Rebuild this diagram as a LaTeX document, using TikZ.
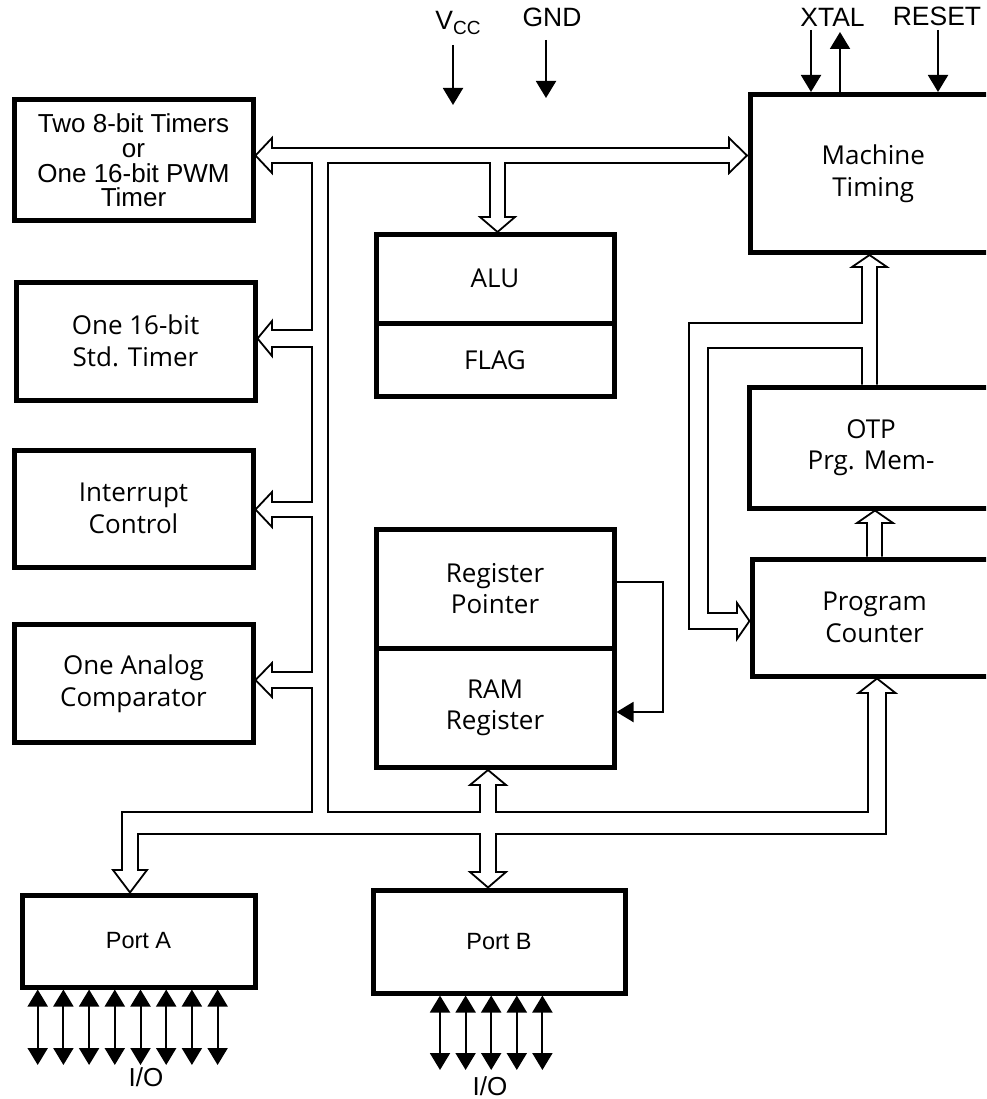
\documentclass[tikz,border=0pt]{standalone}
\usepackage{fontspec}
\setmainfont{Liberation Sans}
\newfontfamily\boxfont{Open Sans}
\usetikzlibrary{arrows.meta}

\begin{document}
\begin{tikzpicture}[x=1pt, y=-1pt, >={Triangle[length=17pt,width=20pt]},
  blk/.style={draw, line width=5pt, inner sep=0pt, align=center, font=\boxfont\fontsize{26}{31.5}\selectfont},
  sanstext/.style={font=\fontsize{#1}{24.7}\selectfont},
  bus/.style={line width=1.8pt},
  sig/.style={line width=2pt, ->},
  io/.style={line width=2pt, <->},
  pin/.style={inner sep=0pt, anchor=base, font=\fontsize{26.5}{30}\selectfont}]
\useasboundingbox (0,0) rectangle (986,1099);
\clip (0,0) rectangle (986,1099);

\node[blk, sanstext=26, minimum width=239pt, minimum height=121pt] (tmrA) at (133.5,160.5) {Two 8-bit Timers\\or\\One 16-bit PWM\\Timer};
\node[blk, minimum width=239pt, minimum height=118pt] (tmrB) at (135.5,341) {One 16-bit\\Std. Timer};
\node[blk, minimum width=239pt, minimum height=117pt] (intc) at (133.5,508.5) {Interrupt\\Control};
\node[blk, minimum width=239pt, minimum height=118pt] (cmp) at (133.5,683.5) {One Analog\\Comparator};
\node[blk, sanstext=23.5, minimum width=233pt, minimum height=92pt] (porta) at (138.5,941) {Port A};
\node[blk, sanstext=23.5, minimum width=252pt, minimum height=103pt] (portb) at (499,941.5) {Port B};
\node[blk, minimum width=238pt, minimum height=88.5pt] (alu) at (495,278.75) {ALU};
\node[blk, minimum width=238pt, minimum height=73.5pt] (flag) at (495,359.75) {FLAG};
\node[blk, minimum width=238pt, minimum height=118.5pt] (rp) at (495,588.75) {Register\\Pointer};
\node[blk, minimum width=238pt, minimum height=119.5pt] (ram) at (495,707.75) {RAM\\Register};
\node[blk, minimum width=245.5pt, minimum height=158pt] (mt) at (873.25,173.5) {Machine\\Timing};
\node[blk, minimum width=243pt, minimum height=121pt] (otp) at (871,447.5) {OTP\\Prg. Mem-};
\node[blk, minimum width=245pt, minimum height=117pt] (pc) at (874.5,617.5) {Program\\Counter};

\node[pin] (vcc) at (458,30) {V\raisebox{-5pt}{\fontsize{19}{19}\selectfont CC}};
\node[pin] (gnd) at (552,27) {GND};
\node[pin] (xtal) at (832.5,27) {XTAL};
\node[pin] (reset) at (937,26) {RESET};
\node[pin, font=\fontsize{26}{28}\selectfont] (ioa) at (146,1086) {I/O};
\node[pin, font=\fontsize{26}{28}\selectfont] (iob) at (490,1095) {I/O};

\draw[sig] ([xshift=-5pt,yshift=-15pt]vcc.base) -- ++(0,60);
\draw[sig] ([xshift=-6pt,yshift=-13pt]gnd.base) -- ++(0,58);
\draw[sig] ([xshift=63pt,yshift=62pt]mt.north west) -- ([xshift=63pt]mt.north west);
\draw[sig] ([xshift=92pt]mt.north west) -- ([xshift=92pt,yshift=60pt]mt.north west);
\draw[sig] ([xshift=190pt,yshift=62pt]mt.north west) -- ([xshift=190pt]mt.north west);
\draw[sig] ([yshift=6.75pt]rp.east) -- ++(46,0) |- ([yshift=-4.25pt]ram.east);

\foreach \i in {0,...,7}
  \draw[io] ([xshift={18.2pt+\i*25.7pt}]porta.south west) -- ++(0,75.5);
\foreach \i in {0,...,4}
  \draw[io] ([xshift={69.5pt+\i*25.6pt}]portb.south west) -- ++(0,74.5);

\draw[bus] (255.5,155.5) -- (272,138) -- (272,148) -- (729,148) -- (729,138) -- (747,155.5) -- (729,173) -- (729,163)
  -- (505,163) -- (505,217) -- (515,217) -- (497.5,232) -- (480,217) -- (490,217) -- (490,163)
  -- (328,163) -- (328,812) -- (480,812) -- (480,785) -- (470,785) -- (488,770) -- (506,785) -- (496,785) -- (496,812)
  -- (868,812) -- (868,693) -- (858.5,693) -- (877,678.5) -- (895.5,693) -- (886,693) -- (886,834)
  -- (496,834) -- (496,872) -- (506,872) -- (488,887.5) -- (470,872) -- (480,872) -- (480,834)
  -- (138,834) -- (138,870) -- (147,870) -- (130,892.5) -- (113,870) -- (122,870) -- (122,812)
  -- (312,812) -- (312,688) -- (272,688) -- (272,697) -- (255.5,680) -- (272,663) -- (272,672)
  -- (312,672) -- (312,517) -- (272,517) -- (272,527) -- (255.5,509.5) -- (272,492) -- (272,502)
  -- (312,502) -- (312,347) -- (272,347) -- (272,356) -- (257.5,338.5) -- (272,321) -- (272,330)
  -- (312,330) -- (312,163) -- (272,163) -- (272,173) -- cycle;
\draw[bus] (862,384.5) -- (862,348) -- (708,348) -- (708,613) -- (737,613) -- (737,603) -- (749.5,621) -- (737,639) -- (737,629)
  -- (689,629) -- (689,323) -- (862,323) -- (862,267) -- (852,267) -- (869.5,255) -- (887,267) -- (877,267) -- (877,384.5);
\draw[bus] (867,556.5) -- (867,523) -- (857,523) -- (875,510.5) -- (893,523) -- (882,523) -- (882,556.5);
\end{tikzpicture}
\end{document}
